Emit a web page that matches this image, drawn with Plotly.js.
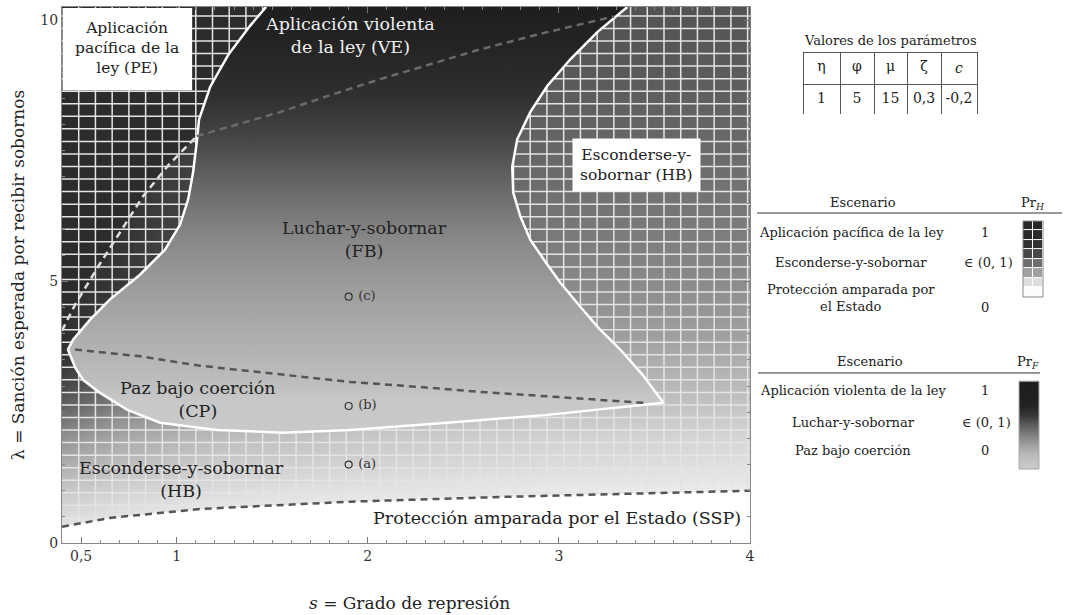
<!DOCTYPE html>
<html><head><meta charset="utf-8">
<script src="https://cdn.plot.ly/plotly-3.0.1.min.js"></script>
<style>html,body{margin:0;padding:0;background:#fff}#chart{width:1068px;height:615px}</style>
</head><body><div id="chart"></div>
<script>
// ---------- data ----------
const xTickVals = [0.5, 1, 2, 3, 4];
const xTickText = ['0,5', '1', '2', '3', '4'];
const yTickVals = [0, 5, 10];
const yTickText = ['0', '5', '10'];

// FB / VE / CP region outline (closed, starting at top-left along the top edge)
const fbX = [1.468, 3.358, 3.201, 3.060, 2.939, 2.850, 2.782, 2.756, 2.761, 2.798, 2.850, 2.929, 3.007, 3.102, 3.206, 3.321, 3.437, 3.547,
             2.939, 2.416, 1.908, 1.557, 1.211, 0.913, 0.740, 0.599, 0.510, 0.470, 0.442, 0.431,
             0.458, 0.547, 0.651, 0.808, 0.939, 1.018, 1.060, 1.086, 1.107, 1.117, 1.175, 1.269, 1.384, 1.468];
const fbY = [10.25, 10.25, 9.77, 9.25, 8.74, 8.24, 7.72, 7.20, 6.70, 6.25, 5.80, 5.38, 4.98, 4.56, 4.12, 3.70, 3.22, 2.68,
             2.45, 2.30, 2.16, 2.11, 2.16, 2.30, 2.55, 2.87, 3.12, 3.35, 3.58, 3.70,
             3.89, 4.27, 4.66, 5.13, 5.61, 6.09, 6.57, 7.09, 7.72, 8.10, 8.72, 9.33, 9.89, 10.25];

// PE region (dark, top-left)
const peX = [0.4, 0.47, 0.6, 0.72, 0.824, 0.96, 1.105, 1.117, 1.175, 1.269, 1.384, 1.468, 0.4];
const peY = [4.06, 4.57, 5.35, 6.03, 6.63, 7.24, 7.78, 8.10, 8.72, 9.33, 9.89, 10.25, 10.25];

// dashed boundaries
const dashPeHbX = [0.4, 0.47, 0.6, 0.72, 0.824, 0.96, 1.105];
const dashPeHbY = [4.06, 4.57, 5.35, 6.03, 6.63, 7.24, 7.78];
const dashVeFbX = [1.105, 1.3, 1.541, 1.8, 2.065, 2.35, 2.588, 2.94, 3.29];
const dashVeFbY = [7.78, 7.98, 8.24, 8.56, 8.87, 9.18, 9.44, 9.77, 10.07];
const dashCpFbX = [0.468, 0.8, 1.122, 1.5, 1.908, 2.25, 2.588, 3.0, 3.442];
const dashCpFbY = [3.70, 3.575, 3.39, 3.24, 3.08, 2.99, 2.89, 2.79, 2.68];
const dashSspX = [0.4, 0.651, 1.122, 1.908, 2.693, 3.636, 4.0];
const dashSspY = [0.31, 0.48, 0.65, 0.79, 0.88, 0.96, 1.0];

// example points
const pointX = [1.9, 1.9, 1.9];
const pointY = [1.5, 2.62, 4.71];
const pointLabels = ['(a)', '(b)', '(c)'];

// background shading (gray level 0-255) of the hatched Pr_H area
const bgShadeX = [0.4, 0.7, 1.2, 2.0, 3.0, 4.0];
const bgShadeY = [0, 0.5, 1, 1.5, 2, 2.5, 3, 3.5, 4, 5, 6, 7, 8, 9, 10.25];
const bgShadeZ = [
  [235, 240, 246, 250, 252, 253],
  [220, 228, 236, 242, 246, 248],
  [200, 210, 220, 228, 234, 236],
  [175, 190, 204, 212, 220, 224],
  [145, 168, 188, 200, 210, 214],
  [105, 135, 165, 185, 196, 200],
  [72, 105, 140, 168, 182, 186],
  [52, 80, 120, 152, 170, 174],
  [46, 65, 105, 138, 156, 160],
  [44, 55, 90, 118, 136, 140],
  [44, 50, 78, 102, 120, 124],
  [44, 48, 70, 92, 108, 112],
  [44, 46, 64, 84, 98, 102],
  [44, 45, 60, 78, 88, 92],
  [44, 45, 56, 72, 80, 84]
];

// FB region vertical shading
const fbShadeY = [2.1, 2.7, 3.1, 4.7, 5.8, 6.7, 7.6, 8.5, 9.5, 10.25];
const fbShadeGray = [201, 200, 189, 160, 136, 108, 74, 48, 36, 30];

// legend swatches (top to bottom)
const prHLevels = [40, 42, 50, 72, 110, 160, 222, 252];
const prFLevels = [30, 32, 36, 55, 95, 130, 160, 185, 200];

// parameter table
const paramNames = ['η', 'φ', 'μ', 'ζ', '<i>c</i>'];
const paramValues = ['1', '5', '15', '0,3', '-0,2'];

// legend rows
const legendHNames = ['Aplicación pacífica de la ley', 'Esconderse-y-sobornar', 'Protección amparada por<br>el Estado'];
const legendHValues = ['1', '∈ (0, 1)', '0'];
const legendFNames = ['Aplicación violenta de la ley', 'Luchar-y-sobornar', 'Paz bajo coerción'];
const legendFValues = ['1', '∈ (0, 1)', '0'];

// ---------- build ----------
const FONT = 'DejaVu Serif';
const gray = v => `rgb(${v},${v},${v})`;
const grayScale = [[0, '#000000'], [1, '#ffffff']];

const gridStepX = 0.0875, gridStepY = 0.24;
const gx = [], gy = [];
for (let x = 0.4 + gridStepX; x < 4; x += gridStepX) { gx.push(x, x, null); gy.push(0, 10.25, null); }
for (let y = gridStepY; y < 10.25; y += gridStepY) { gx.push(0.4, 4, null); gy.push(y, y, null); }

const yLo = fbShadeY[0], yHi = fbShadeY[fbShadeY.length - 1];
const fbScale = fbShadeY.map((y, i) => [(y - yLo) / (yHi - yLo), gray(fbShadeGray[i])]);

const dashStyle = '7px,5px';
const traces = [
  {type: 'heatmap', x: bgShadeX, y: bgShadeY, z: bgShadeZ, zmin: 0, zmax: 255, colorscale: grayScale,
   zsmooth: 'best', showscale: false, hoverinfo: 'skip'},
  {type: 'scatter', mode: 'lines', x: peX, y: peY, fill: 'toself', fillcolor: '#2c2c2c', line: {width: 0}, hoverinfo: 'skip'},
  {type: 'scatter', mode: 'lines', x: gx, y: gy, line: {color: '#e4e4e4', width: 1.5}, hoverinfo: 'skip', connectgaps: false},
  {type: 'scatter', mode: 'lines', x: dashSspX, y: dashSspY, fill: 'tozeroy', fillcolor: '#ffffff', line: {width: 0}, hoverinfo: 'skip'},
  {type: 'scatter', mode: 'lines', x: fbX, y: fbY, fill: 'toself', line: {width: 0}, hoverinfo: 'skip',
   fillcolor: '#888888', fillgradient: {type: 'vertical', start: yLo, stop: yHi, colorscale: fbScale}},
  {type: 'scatter', mode: 'lines', x: fbX.slice(1), y: fbY.slice(1), line: {color: '#ffffff', width: 2.5}, hoverinfo: 'skip'},
  {type: 'scatter', mode: 'lines', x: dashPeHbX, y: dashPeHbY, line: {color: '#dedede', width: 2.5, dash: dashStyle}, hoverinfo: 'skip'},
  {type: 'scatter', mode: 'lines', x: dashVeFbX, y: dashVeFbY, line: {color: '#6a6a6a', width: 2.5, dash: dashStyle}, hoverinfo: 'skip'},
  {type: 'scatter', mode: 'lines', x: dashCpFbX, y: dashCpFbY, line: {color: '#555555', width: 2.5, dash: dashStyle}, hoverinfo: 'skip'},
  {type: 'scatter', mode: 'lines', x: dashSspX, y: dashSspY, line: {color: '#555555', width: 2.5, dash: dashStyle}, hoverinfo: 'skip'},
  {type: 'scatter', mode: 'markers+text', x: pointX, y: pointY, text: pointLabels.map(t => '\u00a0' + t), textposition: 'middle right',
   textfont: {family: FONT, size: 13, color: '#333'},
   marker: {symbol: 'circle-open', size: 7, color: '#333', line: {width: 1.2, color: '#333'}}, hoverinfo: 'skip'},
  {type: 'heatmap', xaxis: 'x2', yaxis: 'y2', z: prHLevels.map(v => [v, v]), zmin: 0, zmax: 255, colorscale: grayScale,
   xgap: 1, ygap: 1, showscale: false, hoverinfo: 'skip'},
  {type: 'heatmap', xaxis: 'x3', yaxis: 'y3', z: prFLevels.map(v => [v, v]), zmin: 0, zmax: 255, colorscale: grayScale,
   zsmooth: 'best', showscale: false, hoverinfo: 'skip'},
  {type: 'table', domain: {x: [0.741, 0.915], y: [0.80, 0.916]}, columnwidth: [37, 34, 33, 34, 36],
   header: {values: paramNames, align: 'center', height: 27, font: {family: FONT, size: 14, color: '#222'},
            line: {color: '#555', width: 1}, fill: {color: '#ffffff'}},
   cells: {values: paramValues.map(v => [v]), align: 'center', height: 30, font: {family: FONT, size: 14, color: '#222'},
           line: {color: '#555', width: 1}, fill: {color: '#ffffff'}}}
];

const ann = [];
const lab = (x, y, text, size, color, extra) => ann.push(Object.assign({x, y, xref: 'x', yref: 'y', text, showarrow: false,
  font: {family: FONT, size, color}, align: 'center'}, extra || {}));
lab(0.740, 9.47, 'Aplicación<br>pacífica de la<br>ley (PE)', 15.5, '#222');
lab(1.908, 9.71, 'Aplicación violenta<br>de la ley (VE)', 17.5, '#f0f0f0');
lab(3.405, 7.22, 'Esconderse-y-<br>sobornar (HB)', 15.5, '#222', {bgcolor: '#ffffff', borderpad: 7});
lab(1.981, 5.81, 'Luchar-y-sobornar<br>(FB)', 17.5, '#222');
lab(1.112, 2.74, 'Paz bajo coerción<br>(CP)', 17.5, '#222');
lab(1.023, 1.21, 'Esconderse-y-sobornar<br>(HB)', 17.5, '#222');
lab(2.99, 0.47, 'Protección amparada por el Estado (SSP)', 17.5, '#222');

const pap = (x, y, text, size, extra) => ann.push(Object.assign({x, y, xref: 'paper', yref: 'paper', text, showarrow: false,
  font: {family: FONT, size, color: '#222'}, align: 'center', xanchor: 'center', yanchor: 'middle'}, extra || {}));
pap(0.347, -0.112, '<i>s</i> = Grado de represión', 17);
pap(-0.044, 0.5, 'λ = Sanción esperada por recibir sobornos', 17, {textangle: -90});
pap(0.828, 0.938, 'Valores de los parámetros', 13);
// legend H
pap(0.801, 0.636, 'Escenario', 13);
pap(0.971, 0.634, 'Pr<sub><i>H</i></sub>', 13);
const hY = [0.580, 0.524, 0.457], hVY = [0.580, 0.524, 0.440];
legendHNames.forEach((t, i) => { pap(0.789, hY[i], t, 13); pap(legendHValues[i].length === 1 ? 0.923 : 0.926, hVY[i], legendHValues[i], 13); });
// legend F
pap(0.808, 0.338, 'Escenario', 13);
pap(0.966, 0.336, 'Pr<sub><i>F</i></sub>', 13);
const fY = [0.2854, 0.2257, 0.1735];
legendFNames.forEach((t, i) => { pap(0.791, fY[i], t, 13); pap(legendFValues[i].length === 1 ? 0.923 : 0.924, fY[i], legendFValues[i], 13); });

const shapes = [
  {type: 'rect', xref: 'x', yref: 'y', x0: 0.403, x1: 1.081, y0: 8.66, y1: 10.23, fillcolor: '#ffffff', line: {width: 0}, layer: 'above'},
  {type: 'line', xref: 'paper', yref: 'paper', x0: 0.695, x1: 1.0, y0: 0.6157, y1: 0.6157, line: {color: '#333', width: 1}},
  {type: 'line', xref: 'paper', yref: 'paper', x0: 0.696, x1: 0.978, y0: 0.3172, y1: 0.3172, line: {color: '#333', width: 1}},
  {type: 'rect', xref: 'paper', yref: 'paper', x0: 0.961, x1: 0.981, y0: 0.459, y1: 0.6007, line: {color: '#888', width: 1}},
  {type: 'rect', xref: 'paper', yref: 'paper', x0: 0.957, x1: 0.977, y0: 0.138, y1: 0.302, line: {color: '#aaa', width: 1}}
];

const axCommon = {ticks: 'inside', ticklen: 6, tickcolor: '#777', showline: true, linecolor: '#888', linewidth: 1,
  mirror: 'allticks', showgrid: false, zeroline: false, tickfont: {family: FONT, size: 14, color: '#333'}, fixedrange: true};
const layout = {
  width: 1068, height: 615, margin: {l: 62, r: 6, t: 7, b: 72}, paper_bgcolor: '#ffffff', plot_bgcolor: '#ffffff',
  showlegend: false, font: {family: FONT},
  xaxis: Object.assign({}, axCommon, {domain: [0, 0.688], range: [0.4, 4], tickmode: 'array', tickvals: xTickVals, ticktext: xTickText,
    minor: {ticks: 'inside', ticklen: 3, dtick: 0.1, tick0: 0, tickcolor: '#888', showgrid: false}}),
  yaxis: Object.assign({}, axCommon, {domain: [0, 1], range: [0, 10.25], tickmode: 'array', tickvals: yTickVals, ticktext: yTickText,
    minor: {ticks: 'inside', ticklen: 3, dtick: 0.5, tick0: 0, tickcolor: '#888', showgrid: false}}),
  xaxis2: {domain: [0.961, 0.981], anchor: 'y2', visible: false, range: [-0.5, 1.5], fixedrange: true},
  yaxis2: {domain: [0.459, 0.6007], anchor: 'x2', visible: false, autorange: 'reversed', fixedrange: true},
  xaxis3: {domain: [0.957, 0.977], anchor: 'y3', visible: false, range: [-0.5, 1.5], fixedrange: true},
  yaxis3: {domain: [0.138, 0.302], anchor: 'x3', visible: false, autorange: 'reversed', fixedrange: true},
  annotations: ann, shapes: shapes
};
Plotly.newPlot('chart', traces, layout, {displayModeBar: false, staticPlot: true});
</script></body></html>
